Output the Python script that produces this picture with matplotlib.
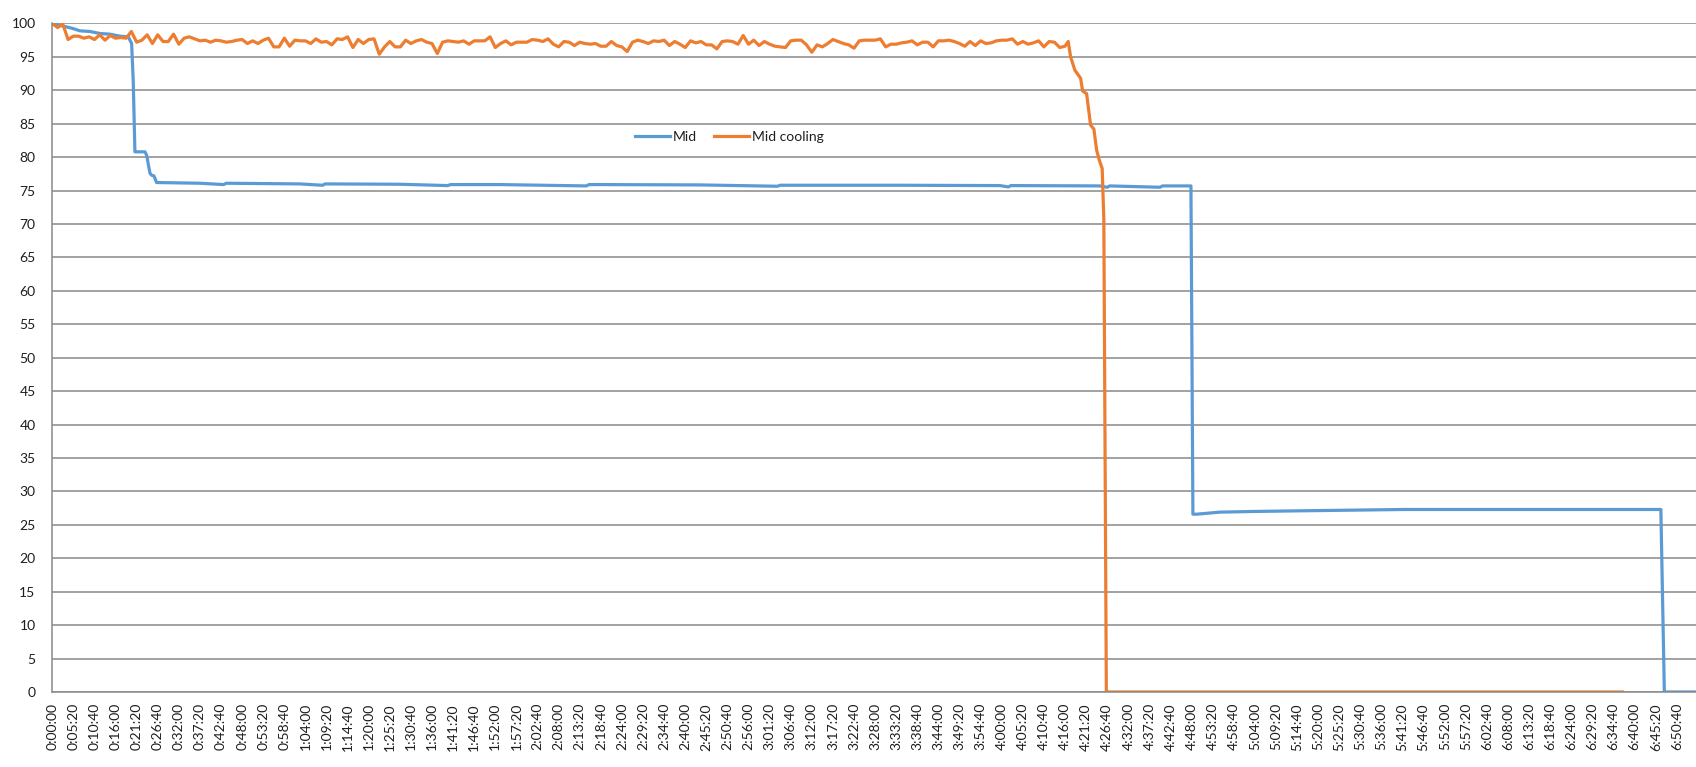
"""Mid vs Mid cooling level over time (Excel-style line chart)."""

import matplotlib
matplotlib.use("Agg")
import matplotlib.pyplot as plt
import matplotlib.transforms as mtransforms
import numpy as np

plt.rcParams["font.family"] = ["Lato", "DejaVu Sans"]

# x tick labels (h:mm:ss), one every 5:20
TICK_LABELS = [
    "0:00:00", "0:05:20", "0:10:40", "0:16:00", "0:21:20", "0:26:40", "0:32:00", "0:37:20",
    "0:42:40", "0:48:00", "0:53:20", "0:58:40", "1:04:00", "1:09:20", "1:14:40", "1:20:00",
    "1:25:20", "1:30:40", "1:36:00", "1:41:20", "1:46:40", "1:52:00", "1:57:20", "2:02:40",
    "2:08:00", "2:13:20", "2:18:40", "2:24:00", "2:29:20", "2:34:40", "2:40:00", "2:45:20",
    "2:50:40", "2:56:00", "3:01:20", "3:06:40", "3:12:00", "3:17:20", "3:22:40", "3:28:00",
    "3:33:20", "3:38:40", "3:44:00", "3:49:20", "3:54:40", "4:00:00", "4:05:20", "4:10:40",
    "4:16:00", "4:21:20", "4:26:40", "4:32:00", "4:37:20", "4:42:40", "4:48:00", "4:53:20",
    "4:58:40", "5:04:00", "5:09:20", "5:14:40", "5:20:00", "5:25:20", "5:30:40", "5:36:00",
    "5:41:20", "5:46:40", "5:52:00", "5:57:20", "6:02:40", "6:08:00", "6:13:20", "6:18:40",
    "6:24:00", "6:29:20", "6:34:40", "6:40:00", "6:45:20", "6:50:40",
]
X_END = 24930  # seconds, right edge of the plot

# "Mid" series: time (s) and value
MID_T = [
    0, 167, 294, 420, 572, 723, 875, 1027, 1153, 1204, 1228, 1254, 1406, 1432, 1482,
    1507, 1542, 1583, 1633, 2240, 2600, 2640, 3757, 4100, 4140, 5273, 6000, 6040,
    6790, 8100, 8140, 8306, 9823, 11000, 11040, 11340, 12856, 14373, 14500, 14540,
    15889, 16000, 16040, 16800, 16840, 17270, 17300, 17361, 17705, 18195, 18923,
    20500, 21956, 24397, 24450, 24930,
]
MID_V = [
    100.0, 99.6, 99.3, 98.9, 98.8, 98.5, 98.4, 98.1, 98.0, 97.0, 91.5, 80.8, 80.8, 80.3, 77.6,
    77.3, 77.2, 76.2, 76.2, 76.1, 75.9, 76.1, 76.0, 75.8, 76.0, 75.95, 75.75, 75.9,
    75.9, 75.7, 75.9, 75.9, 75.85, 75.65, 75.8, 75.8, 75.8, 75.75, 75.55, 75.75,
    75.7, 75.5, 75.7, 75.5, 75.7, 75.7, 26.6, 26.6, 26.9, 27.0, 27.1,
    27.3, 27.3, 27.3, 0.0, 0.0,
]

# "Mid cooling" series: noisy part sampled every 80 s from 0:00:00
COOL_STEP = 80
COOL_NOISY = [
    100.0, 99.4, 99.9, 97.6, 98.1, 98.1, 97.8, 98.0, 97.6, 98.3,
    97.5, 98.2, 97.8, 97.9, 97.8, 98.8, 97.2, 97.5, 98.3, 97.0,
    98.3, 97.3, 97.3, 98.4, 96.9, 97.8, 98.0, 97.7, 97.4, 97.5,
    97.2, 97.5, 97.4, 97.2, 97.3, 97.5, 97.6, 97.0, 97.4, 97.0,
    97.5, 97.8, 96.5, 96.5, 97.8, 96.6, 97.5,
    97.4, 97.4, 97.0, 97.7, 97.2, 97.3, 96.8, 97.7, 97.6, 98.0,
    96.4, 97.6, 97.0, 97.6, 97.7, 95.4, 96.5, 97.3, 96.5, 96.5,
    97.5, 97.0, 97.4, 97.6, 97.2, 97.0, 95.5, 97.2, 97.4, 97.3,
    97.2, 97.4, 96.9, 97.4, 97.4, 97.4, 98.0, 96.4, 97.0, 97.4,
    96.8, 97.2, 97.2, 97.2, 97.6, 97.5, 97.3, 97.7, 96.9, 96.5,
    97.3, 97.2, 96.7, 97.2, 97.0, 96.9, 97.0, 96.6, 96.6, 97.3,
    96.7, 96.5, 95.8, 97.2, 97.5, 97.3, 97.0, 97.4, 97.3, 97.5,
    96.7, 97.3, 96.9, 96.4, 97.4, 97.1, 97.3, 96.8, 96.8, 96.2,
    97.3, 97.4, 97.3, 96.9, 98.2, 96.9, 97.5, 96.7, 97.3, 96.9,
    96.6, 96.5, 96.4, 97.4, 97.5, 97.5, 96.8,
    95.7, 96.8, 96.5, 97.0, 97.6, 97.3, 97.0, 96.8, 96.3, 97.4,
    97.5, 97.5, 97.5, 97.7, 96.5, 96.9, 96.9, 97.1, 97.2, 97.4,
    96.8, 97.2, 97.2, 96.5, 97.4, 97.4, 97.5, 97.3, 97.0, 96.6,
    97.3, 96.7, 97.4, 97.0, 97.1, 97.4, 97.5, 97.5, 97.7, 96.9,
    97.3, 96.9, 97.1, 97.4, 96.5, 97.3, 97.2, 96.4,
    96.6,
]
# then the fall-off and the zero tail
COOL_TAIL_T = [15409, 15445, 15510, 15597, 15627, 15688, 15748, 15798, 15839, 15879,
               15924, 15949, 15987, 23815]
COOL_TAIL_V = [97.3, 95.0, 93.0, 91.8, 89.9, 89.5, 84.8, 84.2, 81.1, 79.6,
               78.3, 70.6, 0.0, 0.0]

BLUE = "#5B9BD5"
ORANGE = "#ED7D31"
GRID = "#898989"
TEXT = "#1e1e1e"


def to_seconds(label: str) -> int:
    h, m, s = (int(p) for p in label.split(":"))
    return h * 3600 + m * 60 + s


def main() -> None:
    cool_t = list(np.arange(len(COOL_NOISY)) * COOL_STEP) + COOL_TAIL_T
    cool_v = COOL_NOISY + COOL_TAIL_V

    fig = plt.figure(figsize=(16.96, 7.67), dpi=100)
    ax = fig.add_axes([0.0308, 0.0978, 0.9692, 0.8716])

    ax.plot(MID_T, MID_V, color=BLUE, linewidth=2.3, label="Mid", solid_joinstyle="round")
    ax.plot(cool_t, cool_v, color=ORANGE, linewidth=2.3, label="Mid cooling",
            solid_joinstyle="round")

    ax.set_xlim(0, X_END)
    ax.set_ylim(0, 100)
    ax.set_yticks(np.arange(0, 101, 5))
    ax.set_xticks([to_seconds(s) for s in TICK_LABELS])
    ax.set_xticklabels(TICK_LABELS, rotation=90)

    # Excel draws the rotated labels a hair to the right of the category
    shift = mtransforms.ScaledTranslation(3 / 100, 0, fig.dpi_scale_trans)
    for lab in ax.get_xticklabels():
        lab.set_transform(lab.get_transform() + shift)

    ax.grid(True, axis="y", color=GRID, linewidth=1.1)
    ax.set_axisbelow(True)
    for side in ("top", "right"):
        ax.spines[side].set_visible(False)
    for side in ("left", "bottom"):
        ax.spines[side].set_color(GRID)
        ax.spines[side].set_linewidth(1.1)

    ax.tick_params(axis="y", length=0, pad=12, labelsize=10, labelcolor=TEXT)
    ax.tick_params(axis="x", length=0, pad=8, labelsize=10, labelcolor=TEXT)

    ax.legend(loc="center", bbox_to_anchor=(0.412, 0.830), ncol=2, frameon=False,
              fontsize=10, handlelength=2.5, handletextpad=0.25, columnspacing=1.2,
              labelcolor=TEXT)

    fig.savefig("out.png", dpi=100)
    plt.close(fig)


if __name__ == "__main__":
    main()
